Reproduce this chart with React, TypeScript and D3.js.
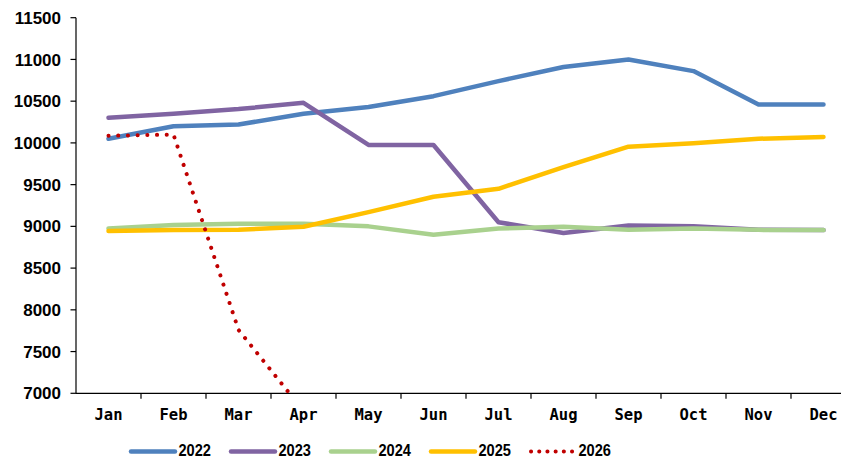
import React from "react";
import * as d3 from "d3";

const months = ["Jan","Feb","Mar","Apr","May","Jun","Jul","Aug","Sep","Oct","Nov","Dec"];
const yTicks = [7000,7500,8000,8500,9000,9500,10000,10500,11000,11500];

const s2022 = [10050,10200,10220,10350,10430,10560,10740,10910,11000,10860,10460,10460];
const s2023 = [10300,10350,10405,10480,9975,9975,9050,8920,9010,9000,8960,8955];
const s2024 = [8975,9015,9030,9030,9000,8900,8975,8995,8960,8975,8958,8955];
const s2025 = [8945,8955,8960,8995,9170,9355,9450,9710,9955,9995,10050,10070];
const s2026 = [10085,10100,7760,6790];

const seriesNames = ["2022","2023","2024","2025","2026"];
const seriesColors = ["#4f81bd","#8064a2","#a9d18e","#ffc000","#c00000"];
const seriesData = [s2022,s2023,s2024,s2025,s2026];

const W = 841, H = 460;
const left = 76, right = 856, top = 17.7, bottom = 393.3;

export default function App() {
  const x = d3.scaleBand<string>().domain(months).range([left, right]).padding(0);
  const y = d3.scaleLinear().domain([7000, 11500]).range([bottom, top]);
  const cx = (m: string) => (x(m) as number) + x.bandwidth() / 2;
  const line = d3.line<number>().x((_, i) => cx(months[i])).y((v) => y(v));

  const order = [0, 1, 2, 3, 4];
  return (
    <svg width={W} height={H} style={{ position: "absolute", left: 0, top: 0, display: "block", background: "#fff" }}>
      <defs>
        <clipPath id="plot">
          <rect x={left} y={top - 10} width={W - left} height={bottom - top + 10} />
        </clipPath>
      </defs>
      {/* y axis */}
      <line x1={left} x2={left} y1={top} y2={bottom} stroke="#000" strokeWidth={1.2} />
      {yTicks.map((t) => (
        <g key={t}>
          <line x1={left - 5.5} x2={left} y1={y(t)} y2={y(t)} stroke="#000" strokeWidth={1.2} />
          <text x={61} y={y(t)} dy="0.36em" textAnchor="end" fontFamily="'Liberation Sans', Arial, sans-serif" fontWeight="bold" fontSize={17} fill="#000">{t}</text>
        </g>
      ))}
      {/* x axis */}
      <line x1={left} x2={W} y1={bottom} y2={bottom} stroke="#000" strokeWidth={1.2} />
      {months.map((m) => (
        <g key={m}>
          <line x1={(x(m) as number) + x.bandwidth()} x2={(x(m) as number) + x.bandwidth()} y1={bottom} y2={bottom + 5.5} stroke="#000" strokeWidth={1.2} />
          <text x={cx(m)} y={419.5} textAnchor="middle" fontFamily="'DejaVu Sans Mono', monospace" fontWeight="bold" fontSize={15.5} fill="#000">{m}</text>
        </g>
      ))}
      {/* series */}
      <g clipPath="url(#plot)">
        {order.map((k) => {
          const isDot = k === 4;
          return (
            <path
              key={k}
              d={line(seriesData[k]) as string}
              fill="none"
              stroke={seriesColors[k]}
              strokeWidth={isDot ? 4 : 4.5}
              strokeLinecap="round"
              strokeLinejoin="round"
              strokeDasharray={isDot ? "0.1 9.6" : undefined}
            />
          );
        })}
      </g>
      {/* legend */}
      {seriesNames.map((n, k) => {
        const lx = 131 + k * 100;
        const isDot = k === 4;
        return (
          <g key={n}>
            <line x1={lx} x2={lx + 44} y1={451.5} y2={451.5} stroke={seriesColors[k]} strokeWidth={isDot ? 4 : 4.5} strokeLinecap="round" strokeDasharray={isDot ? "0.1 8.1" : undefined} />
            <text x={lx + 47.5} y={456} textLength={32.5} lengthAdjust="spacingAndGlyphs" fontFamily="'Liberation Sans', Arial, sans-serif" fontWeight="bold" fontSize={17} fill="#000">{n}</text>
          </g>
        );
      })}
    </svg>
  );
}
